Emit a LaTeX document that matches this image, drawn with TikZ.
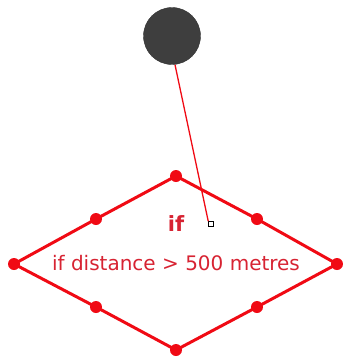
\documentclass[tikz,border=0pt]{standalone}
\usepackage{fontspec}
\setmainfont{DejaVu Sans}
\definecolor{dred}{RGB}{240,10,20}
\definecolor{tred}{RGB}{215,35,50}
\definecolor{ball}{RGB}{62,62,62}
\begin{document}
\begin{tikzpicture}[x=1pt,y=-1pt,
  dot/.style={circle,fill=dred,inner sep=0pt,minimum size=12pt},
  edge/.style={draw=dred,line width=3pt},
  lbl/.style={text=tred}]
\useasboundingbox (0,0) rectangle (343,357);
\node[circle,fill=ball,draw=ball!80!black,minimum size=57pt,inner sep=0pt] (ball) at (172,36) {};
\node[dot] (t) at (176,176) {};
\node[dot] (l) at (14,264) {};
\node[dot] (r) at (337,264) {};
\node[dot] (b) at (176,350) {};
\node[dot] (tl) at (96,219) {};
\node[dot] (tr) at (257,219) {};
\node[dot] (bl) at (96,307) {};
\node[dot] (br) at (257,307) {};
\draw[edge] (t.center) -- (tr.center) -- (r.center) -- (br.center) -- (b.center) -- (bl.center) -- (l.center) -- (tl.center) -- cycle;
\node[lbl,font=\bfseries\fontsize{21}{22}\selectfont] (if) at (176,224) {if};
\node[lbl,font=\fontsize{20}{22}\selectfont] (cond) at (176,263) {if distance > 500 metres};
\node[draw=black,fill=white,line width=1pt,minimum size=4.5pt,inner sep=0pt] (h) at (211,224) {};
\draw[dred,line width=1.3pt] (ball.south) ++(3,0) -- (h.north west);
\end{tikzpicture}
\end{document}
